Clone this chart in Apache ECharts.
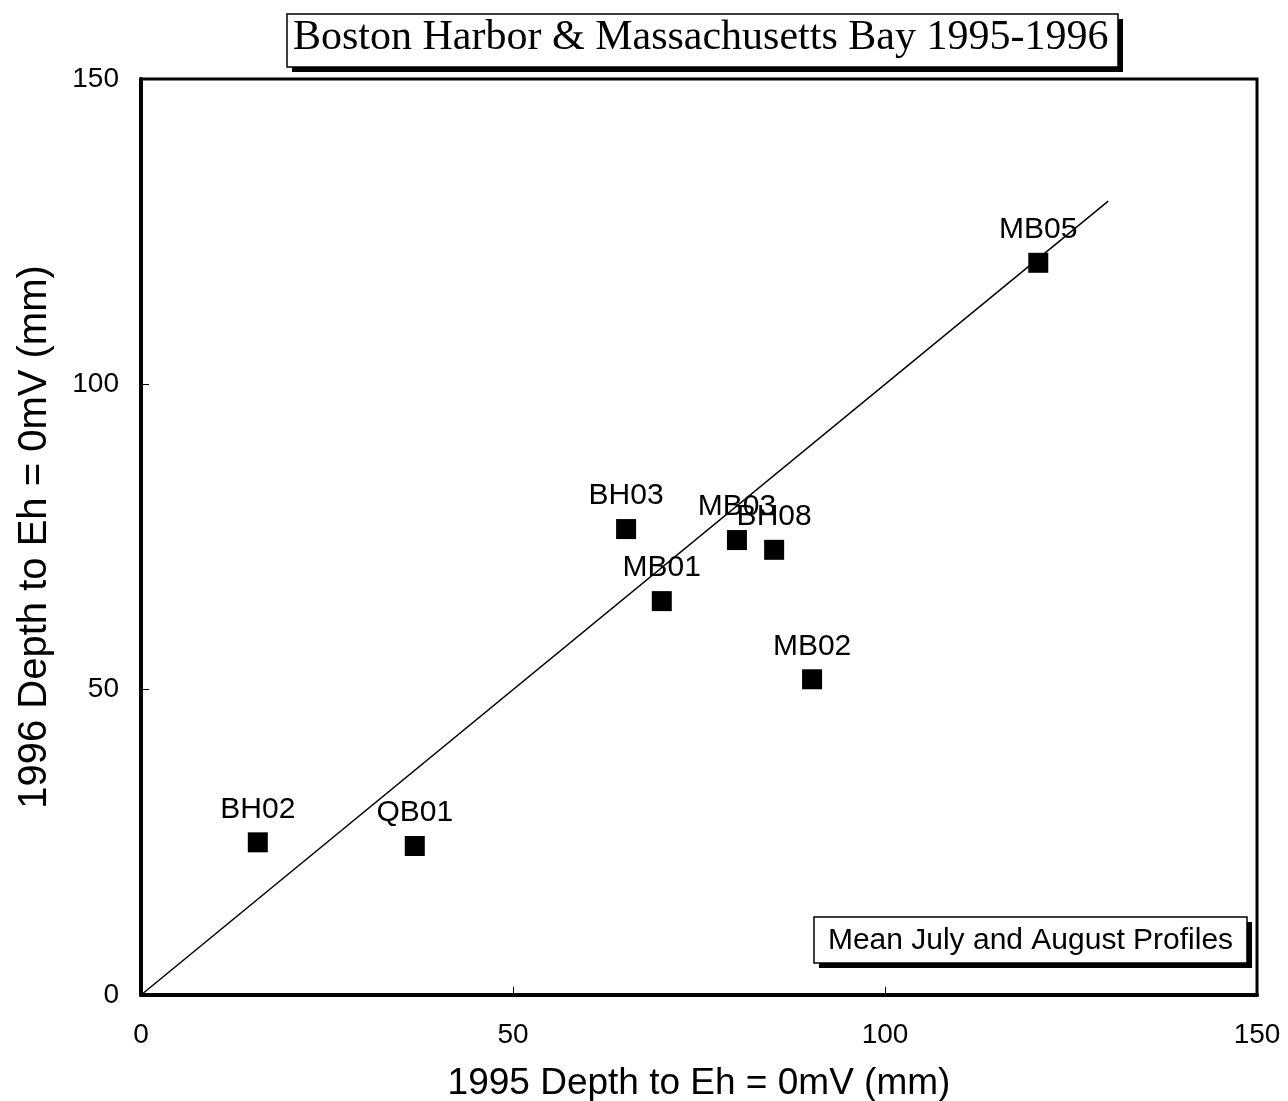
<!DOCTYPE html>
<html><head><meta charset="utf-8">
<script src="https://cdn.jsdelivr.net/npm/echarts@6/dist/echarts.min.js"></script>
<style>html,body{margin:0;padding:0;background:#fff}#c{width:1288px;height:1101px}</style>
</head><body><div id="c"></div>
<script>
const stations = ['BH02','QB01','BH03','MB01','MB03','BH08','MB02','MB05'];
const depth1995 = [15.7, 36.8, 65.2, 70.0, 80.1, 85.1, 90.2, 120.6];
const depth1996 = [25.0, 24.4, 76.3, 64.5, 74.5, 72.9, 51.7, 119.9];
const oneToOne = [[0,0],[130,130]];
const xTicks = [0, 50, 100, 150];
const yTicks = [0, 50, 100, 150];

const chart = echarts.init(document.getElementById('c'), null, {renderer:'canvas'});
const pts = stations.map((s,i)=>({name:s, value:[depth1995[i], depth1996[i]]}));
chart.setOption({
  animation:false,
  backgroundColor:'#fff',
  title:{
    text:'Boston Harbor & Massachusetts Bay 1995-1996',
    left:293, top:17, padding:0, z:10,
    textStyle:{fontFamily:'Liberation Serif', fontSize:42, fontWeight:'normal', color:'#000'}
  },
  grid:{left:141, right:31, top:79, bottom:106, outerBoundsMode:'none', containLabel:false,
    show:true, borderColor:'#000', borderWidth:3, backgroundColor:'transparent'},
  xAxis:{
    type:'value', min:0, max:150, interval:50,
    name:'1995 Depth to Eh = 0mV (mm)', nameLocation:'middle', nameGap:70,
    nameTextStyle:{fontFamily:'Liberation Sans', fontSize:37, color:'#000'},
    axisLine:{show:true, onZero:false, lineStyle:{color:'#000', width:4}},
    axisTick:{show:true, inside:true, length:8, lineStyle:{color:'#000', width:1}},
    axisLabel:{fontFamily:'Liberation Sans', fontSize:28, color:'#000', margin:26,
      formatter:v=> xTicks.includes(v) ? String(v) : ''},
    splitLine:{show:false}
  },
  yAxis:{
    type:'value', min:0, max:150, interval:50,
    name:'1996 Depth to Eh = 0mV (mm)', nameLocation:'middle', nameGap:86,
    nameTextStyle:{fontFamily:'Liberation Sans', fontSize:40, color:'#000'},
    axisLine:{show:true, onZero:false, lineStyle:{color:'#000', width:4}},
    axisTick:{show:true, inside:true, length:8, lineStyle:{color:'#000', width:1}},
    axisLabel:{fontFamily:'Liberation Sans', fontSize:28, color:'#000', margin:22,
      formatter:v=> yTicks.includes(v) ? String(v) : ''},
    splitLine:{show:false}
  },
  graphic:[
    {type:'rect', z:0, shape:{x:292,y:19,width:831,height:53}, style:{fill:'#000'}},
    {type:'rect', z:1, shape:{x:287,y:14,width:831,height:53}, style:{fill:'#fff', stroke:'#000', lineWidth:1.5}},
    {type:'rect', z:0, shape:{x:819,y:922,width:433,height:46}, style:{fill:'#000'}},
    {type:'rect', z:1, shape:{x:814,y:917,width:433,height:46}, style:{fill:'#fff', stroke:'#000', lineWidth:1.5}},
    {type:'text', z:2, x:1030.5, y:941, style:{text:'Mean July and August Profiles', fontFamily:'Liberation Sans', fontSize:30, fill:'#000', align:'center', verticalAlign:'middle'}}
  ],
  series:[
    {type:'line', data:oneToOne, symbol:'none', lineStyle:{color:'#000', width:1.5}, z:1, silent:true},
    {type:'scatter', data:pts, symbol:'rect', symbolSize:20, itemStyle:{color:'#000', opacity:1}, z:2,
      label:{show:true, position:'top', distance:8, formatter:p=>p.name,
        fontFamily:'Liberation Sans', fontSize:30, color:'#000'}}
  ]
});
</script></body></html>
